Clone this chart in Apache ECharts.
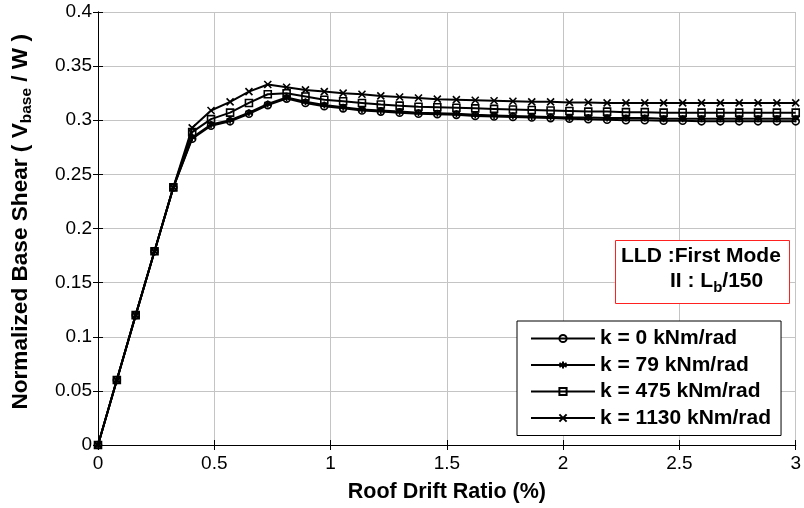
<!DOCTYPE html>
<html>
<head>
<meta charset="utf-8">
<script src="https://cdn.jsdelivr.net/npm/echarts@6/dist/echarts.min.js"></script>
<style>
  html, body { margin: 0; padding: 0; background: #fff; }
  #chart { width: 804px; height: 508px; }
</style>
</head>
<body>
<div id="chart"></div>
<script>
// Roof drift ratio (%) at each pushover step
const drift = [0, 0.081, 0.162, 0.243, 0.324, 0.405, 0.486, 0.568, 0.649, 0.730,
  0.811, 0.892, 0.973, 1.054, 1.135, 1.216, 1.297, 1.378, 1.459, 1.541,
  1.622, 1.703, 1.784, 1.865, 1.946, 2.027, 2.108, 2.189, 2.270, 2.351,
  2.432, 2.514, 2.595, 2.676, 2.757, 2.838, 2.919, 3.000];

// Normalized base shear V_base / W for each connection stiffness
const k0 = [0, 0.060, 0.120, 0.179, 0.238, 0.283, 0.295, 0.299, 0.306, 0.314,
  0.320, 0.316, 0.313, 0.311, 0.309, 0.308, 0.307, 0.306, 0.3055, 0.305,
  0.304, 0.3035, 0.303, 0.3025, 0.302, 0.3015, 0.301, 0.3005, 0.300, 0.300,
  0.2995, 0.2995, 0.299, 0.299, 0.299, 0.299, 0.299, 0.299];
const k79 = [0, 0.060, 0.120, 0.179, 0.238, 0.284, 0.296, 0.300, 0.307, 0.315,
  0.321, 0.317, 0.314, 0.312, 0.310, 0.309, 0.308, 0.307, 0.3065, 0.306,
  0.305, 0.3045, 0.304, 0.3035, 0.303, 0.3025, 0.3025, 0.302, 0.302, 0.302,
  0.3015, 0.3015, 0.3015, 0.3015, 0.3015, 0.3015, 0.3015, 0.3015];
const k475 = [0, 0.060, 0.120, 0.179, 0.238, 0.289, 0.301, 0.307, 0.316, 0.324,
  0.325, 0.322, 0.319, 0.3175, 0.316, 0.3145, 0.3135, 0.3125, 0.312, 0.3115,
  0.311, 0.3105, 0.310, 0.3095, 0.309, 0.3085, 0.308, 0.308, 0.3075, 0.3075,
  0.307, 0.307, 0.307, 0.307, 0.307, 0.307, 0.307, 0.307];
const k1130 = [0, 0.060, 0.120, 0.179, 0.238, 0.293, 0.309, 0.317, 0.3265, 0.333,
  0.3305, 0.328, 0.3265, 0.325, 0.324, 0.3225, 0.3215, 0.3205, 0.3195, 0.319,
  0.3185, 0.318, 0.3175, 0.317, 0.317, 0.3165, 0.3165, 0.316, 0.316, 0.316,
  0.316, 0.316, 0.316, 0.316, 0.316, 0.316, 0.316, 0.316];

const seriesNames = ['k = 0 kNm/rad', 'k = 79 kNm/rad', 'k = 475 kNm/rad', 'k = 1130 kNm/rad'];
const seriesValues = [k0, k79, k475, k1130];

// Marker shapes: open circle, asterisk, open square, cross
const markers = [
  'circle',
  'path://M5,0L5,10M0.7,2.5L9.3,7.5M0.7,7.5L9.3,2.5',
  'rect',
  'path://M0,0L10,10M10,0L0,10'
];

const FONT = 'Liberation Sans, Arial, sans-serif';

const chart = echarts.init(document.getElementById('chart'), null, { renderer: 'canvas' });

const series = seriesValues.map((vals, i) => ({
  name: seriesNames[i],
  type: 'line',
  data: drift.map((x, j) => [x, vals[j]]),
  symbol: markers[i],
  symbolSize: 7,
  showAllSymbol: true,
  lineStyle: { color: '#000', width: 2 },
  itemStyle: { color: 'rgba(0,0,0,0)', borderColor: '#000', borderWidth: 1.6 },
  emphasis: { disabled: true },
  animation: false,
  z: 3
}));

const gridLineStyle = { show: true, lineStyle: { color: '#c4c4c4', width: 1 } };

chart.setOption({
  backgroundColor: '#fff',
  animation: false,
  grid: { left: 98, right: 7, top: 12, bottom: 62 },
  xAxis: [{
    type: 'value', min: 0, max: 3, interval: 0.5,
    name: 'Roof Drift Ratio (%)',
    nameLocation: 'middle', nameGap: 36,
    nameTextStyle: { fontFamily: FONT, fontSize: 21.5, fontWeight: 'bold', color: '#000' },
    axisLine: { lineStyle: { color: '#000', width: 1 } },
    axisTick: { inside: true, length: 5, lineStyle: { color: '#000' } },
    axisLabel: { fontFamily: FONT, fontSize: 19, color: '#000', margin: 9 },
    splitLine: gridLineStyle
  }, {
    type: 'value', min: 0, max: 3, interval: 0.5, position: 'top',
    axisLine: { show: true, lineStyle: { color: '#000', width: 1 } },
    axisTick: { inside: true, length: 5, lineStyle: { color: '#000' } },
    axisLabel: { show: false }, splitLine: { show: false }
  }],
  yAxis: [{
    type: 'value', min: 0, max: 0.4, interval: 0.05,
    axisLine: { show: true, lineStyle: { color: '#000', width: 1 } },
    axisTick: { inside: true, length: 5, lineStyle: { color: '#000' } },
    axisLabel: { fontFamily: FONT, fontSize: 19, color: '#000', margin: 6 },
    splitLine: gridLineStyle
  }, {
    type: 'value', min: 0, max: 0.4, interval: 0.05, position: 'right',
    axisLine: { show: true, lineStyle: { color: '#000', width: 1 } },
    axisTick: { inside: true, length: 5, lineStyle: { color: '#000' } },
    axisLabel: { show: false }, splitLine: { show: false }
  }],
  legend: {
    orient: 'vertical',
    left: 517, top: 321,
    padding: [7, 10, 7, 13],
    itemWidth: 64, itemHeight: 9, itemGap: 5.5,
    backgroundColor: '#fff',
    borderColor: '#000', borderWidth: 1,
    textStyle: { fontFamily: FONT, fontSize: 21, fontWeight: 'bold', color: '#000' },
    data: seriesNames,
    selectedMode: false
  },
  graphic: [
    {
      type: 'text',
      left: 9, top: 34,
      rotation: Math.PI / 2,
      style: {
        text: 'Normalized Base Shear ( V{sub|base} / W )',
        fontFamily: FONT, fontSize: 22.6, fontWeight: 'bold', fill: '#000',
        rich: {
          sub: { fontFamily: FONT, fontSize: 15.5, fontWeight: 'bold', fill: '#000', padding: [12, 0, 0, 0] }
        }
      },
      z: 10
    },
    {
      type: 'rect',
      shape: { x: 615.5, y: 240.5, width: 174, height: 63 },
      style: { fill: '#fff', stroke: '#ff2020', lineWidth: 1 },
      z: 10
    },
    {
      type: 'text',
      x: 621, y: 246,
      style: {
        text: 'LLD :First Mode',
        fontFamily: FONT, fontSize: 21, fontWeight: 'bold', fill: '#000'
      },
      z: 11
    },
    {
      type: 'text',
      x: 670, y: 268,
      style: {
        text: 'II : L{sub|b}/150',
        fontFamily: FONT, fontSize: 21, fontWeight: 'bold', fill: '#000',
        rich: {
          sub: { fontFamily: FONT, fontSize: 15, fontWeight: 'bold', fill: '#000', padding: [12, 0, 0, 0] }
        }
      },
      z: 11
    }
  ],
  series: series
});
</script>
</body>
</html>
